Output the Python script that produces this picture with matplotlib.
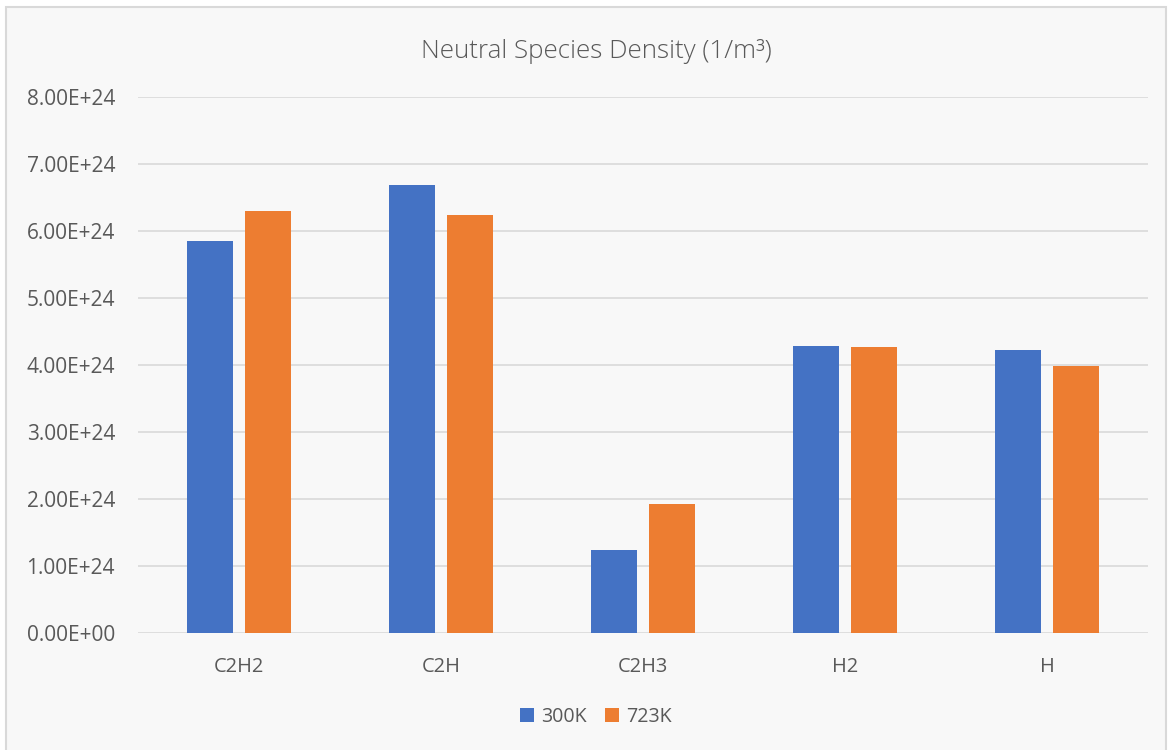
import matplotlib
matplotlib.use("Agg")
import matplotlib.pyplot as plt
from matplotlib.patches import Rectangle
import numpy as np

categories = ["C2H2", "C2H", "C2H3", "H2", "H"]
series_names = ["300K", "723K"]
vals_300K = [5.85e24, 6.69e24, 1.24e24, 4.28e24, 4.22e24]
vals_723K = [6.30e24, 6.24e24, 1.92e24, 4.27e24, 3.99e24]
yticks = [0, 1e24, 2e24, 3e24, 4e24, 5e24, 6e24, 7e24, 8e24]
ytick_labels = ["0.00E+00", "1.00E+24", "2.00E+24", "3.00E+24", "4.00E+24",
                "5.00E+24", "6.00E+24", "7.00E+24", "8.00E+24"]
title = "Neutral Species Density (1/m\u00b3)"

FAM = ['Open Sans', 'DejaVu Sans']
plt.rcParams['font.family'] = FAM
txt = "#595959"
bg = "#F8F8F8"

fig = plt.figure(figsize=(11.72, 7.5), dpi=100, facecolor="white")
renderer = fig.canvas.get_renderer()


def fit_size(s, target_px, base=12.0):
    t = fig.text(0, 0, s, fontsize=base)
    w = t.get_window_extent(renderer=renderer).width
    t.remove()
    return base * target_px / w


fs_y = fit_size("8.00E+24", 89)
fs_x = fit_size("C2H2", 50)
fs_leg = fit_size("300K", 46)
fs_title = fit_size(title, 364)

fig.patches.append(Rectangle((6/1172, -0.01), 1160/1172, 1.0 - 7/750 + 0.01,
                             transform=fig.transFigure, facecolor=bg,
                             edgecolor="#D9D9D9", linewidth=1.5, zorder=-10))
ax = fig.add_axes([138/1172, 1-633/750, 1010/1172, (633-97)/750])
ax.set_facecolor(bg)

x = np.arange(len(categories))
w = 0.227
off = 0.143
ax.bar(x - off, vals_300K, w, color="#4472C4", label=series_names[0], zorder=3)
ax.bar(x + off, vals_723K, w, color="#ED7D31", label=series_names[1], zorder=3)

ax.set_xlim(-0.5, len(categories) - 0.5)
ax.set_ylim(0, 8e24)
ax.set_yticks(yticks)
ax.set_yticklabels(ytick_labels, fontsize=fs_y)
ax.set_xticks(x)
ax.set_xticklabels(categories, fontsize=fs_x)
ax.tick_params(axis='both', length=0, colors=txt)
ax.tick_params(axis='y', pad=23*0.72)
ax.tick_params(axis='x', pad=32*0.72)
for lab in ax.get_xticklabels():
    lab.set_va('center_baseline')
for lab in ax.get_yticklabels():
    lab.set_va('center_baseline')
ax.grid(axis='y', color="#D9D9D9", linewidth=1.2, zorder=0)
for s in ax.spines.values():
    s.set_visible(False)

fig.text(596/1172, 1-49/750, title, ha="center", va="center_baseline",
         fontsize=fs_title, color=txt, fontweight="light")

em = fs_leg
leg = fig.legend(loc="center", bbox_to_anchor=(596/1172, 1-717/750), ncol=2,
                 frameon=False, fontsize=fs_leg, handlelength=14*0.72/em,
                 handleheight=14*0.72/em, handletextpad=7*0.72/em,
                 columnspacing=18*0.72/em)
for t in leg.get_texts():
    t.set_color(txt)

fig.savefig("out.png", dpi=100, facecolor="white")
